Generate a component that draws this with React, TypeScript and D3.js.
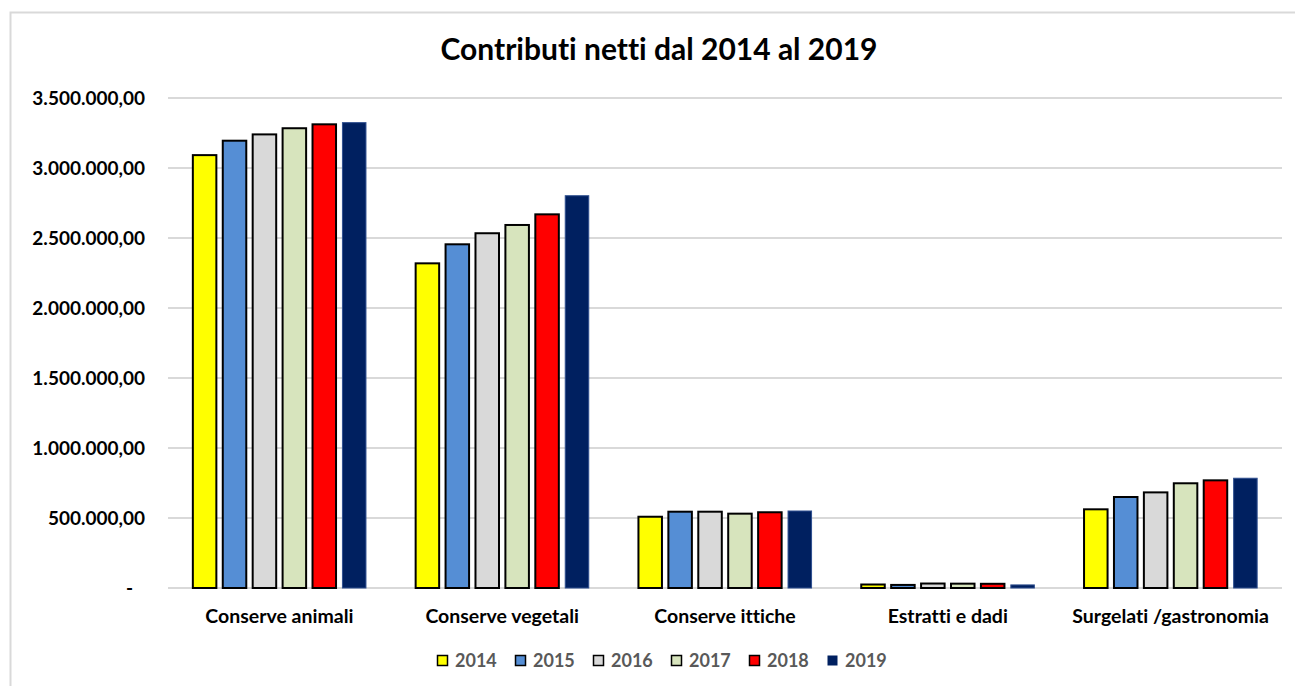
import React from "react";
import * as d3 from "d3";

const categories = ["Conserve animali", "Conserve vegetali", "Conserve ittiche", "Estratti e dadi", "Surgelati /gastronomia"];
const years = ["2014", "2015", "2016", "2017", "2018", "2019"];
const v2014 = [3092000, 2319000, 509000, 25000, 562000];
const v2015 = [3195000, 2455000, 545000, 22000, 650000];
const v2016 = [3240000, 2534000, 545000, 32000, 683000];
const v2017 = [3284000, 2593000, 531000, 31000, 748000];
const v2018 = [3312000, 2669000, 541000, 30000, 769000];
const v2019 = [3324000, 2802000, 550000, 22000, 784000];
const series = [v2014, v2015, v2016, v2017, v2018, v2019];
const yTicks = [0, 500000, 1000000, 1500000, 2000000, 2500000, 3000000, 3500000];

const fills = ["#FFFF00", "#558ED5", "#D9D9D9", "#D7E4BD", "#FF0000", "#002060"];
const strokes = ["#000", "#000", "#000", "#000", "#000", "#2F4F8F"];
const strokeW = [2, 2, 2, 2, 2, 1];

const W = 1295, H = 686;
const plot = { left: 168, right: 1282, top: 98, bottom: 588 };
const FONT = "Lato, 'Open Sans', sans-serif";
const noLig = { fontVariantLigatures: "none" } as React.CSSProperties;

function fmt(v: number) {
  if (v === 0) return "-";
  const s = d3.format(",.2f")(v);
  return s.replace(/,/g, "#").replace(".", ",").replace(/#/g, ".");
}

export default function App() {
  const y = d3.scaleLinear().domain([0, 3500000]).range([plot.bottom, plot.top]);
  const x0 = d3.scaleBand<string>().domain(categories).range([plot.left, plot.right]).paddingInner(0).paddingOuter(0);
  const bw = x0.bandwidth();
  const groupW = bw * 0.777;
  const off = (bw - groupW) / 2;
  const x1 = d3.scaleBand<string>().domain(years).range([off, off + groupW]).paddingInner(0.214).paddingOuter(0);

  const legendStart = 437;
  const legendStep = 78;

  return (
    <svg width={W} height={H} style={{ position: "absolute", left: 0, top: 0, background: "#fff" }}>
      <rect x={0} y={0} width={W} height={H} fill="#fff" />
      <rect x={10.5} y={12.5} width={1300} height={700} fill="none" stroke="#D9D9D9" strokeWidth={2} />
      <text x={659} y={60} textAnchor="middle" fontFamily={FONT} fontWeight={700} fontSize={30} fill="#000" style={noLig}>
        Contributi netti dal 2014 al 2019
      </text>
      {yTicks.map((t) => (
        <g key={t}>
          <line x1={plot.left} x2={plot.right} y1={y(t)} y2={y(t)} stroke="#D9D9D9" strokeWidth={2} />
          <text x={t === 0 ? 133 : 145} y={y(t) + 6.5} textAnchor="end" fontFamily={FONT} fontWeight={700} fontSize={19} fill="#000">
            {fmt(t)}
          </text>
        </g>
      ))}
      {categories.map((c, ci) => (
        <g key={c} transform={`translate(${x0(c)},0)`}>
          {series.map((s, si) => (
            <rect
              key={si}
              x={x1(years[si])!}
              y={y(s[ci])}
              width={x1.bandwidth()}
              height={y(0) - y(s[ci])}
              fill={fills[si]}
              stroke={strokes[si]}
              strokeWidth={strokeW[si]}
            />
          ))}
          <text x={bw / 2} y={623} textAnchor="middle" fontFamily={FONT} fontWeight={700} fontSize={19.5} fill="#000" style={noLig}>
            {c}
          </text>
        </g>
      ))}
      {years.map((yr, i) => (
        <g key={yr} transform={`translate(${legendStart + i * legendStep},655)`}>
          <rect x={0.5} y={0.5} width={10} height={10} fill={fills[i]} stroke={i === 5 ? "none" : "#000"} strokeWidth={1.5} />
          <text x={18} y={12} fontFamily={FONT} fontWeight={700} fontSize={18} fill="#595959">
            {yr}
          </text>
        </g>
      ))}
    </svg>
  );
}
